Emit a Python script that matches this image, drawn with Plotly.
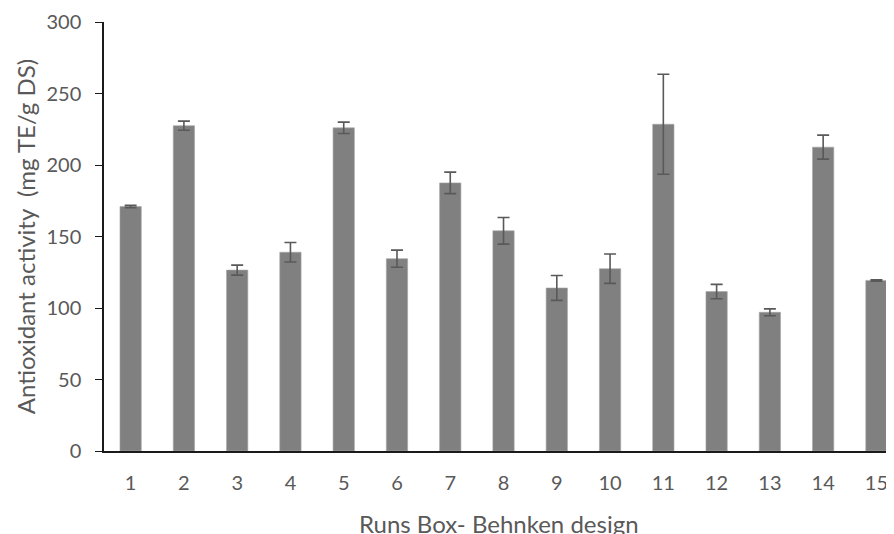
import plotly.graph_objects as go

runs = [str(i) for i in range(1, 16)]
activity = [171, 227.5, 126.5, 139, 226, 134.5, 187.5, 154, 114, 127.5, 228.5, 111.5, 97, 212.5, 119.3]
errors = [0.8, 3.2, 3.5, 6.8, 4, 6, 7.5, 9.3, 8.7, 10.3, 35, 5, 2.4, 8.4, 0.5]
y_ticks = [0, 50, 100, 150, 200, 250, 300]

FONT = "Lato"
GRAY = "#595959"

fig = go.Figure(go.Bar(
    x=list(range(1, 16)), y=activity,
    marker=dict(color="#808080", line=dict(color="#a6a6a6", width=0.6)),
    error_y=dict(type="data", array=errors, visible=True, color=GRAY, thickness=1.6, width=6),
    width=0.4,
))

fig.update_layout(
    width=886, height=526,
    margin=dict(l=96, r=0, t=14, b=83),
    plot_bgcolor="white", paper_bgcolor="white",
    showlegend=False,
    font=dict(family=FONT, color=GRAY, size=20),
    xaxis=dict(
        range=[0.5, 15.33], tickmode="array", tickvals=list(range(1, 16)), ticktext=runs,
        showline=True, linecolor="#1a1a1a", linewidth=1.5, ticks="", showgrid=False,
        zeroline=False, tickfont=dict(size=20, color=GRAY, family=FONT),
        ticklabelstandoff=13,
    ),
    yaxis=dict(
        range=[0, 300], tickvals=y_ticks, showline=True, linecolor="#1a1a1a", linewidth=1.5,
        ticks="outside", ticklen=7, tickcolor="#1a1a1a", tickwidth=1, showgrid=False,
        zeroline=False, tickfont=dict(size=20, color=GRAY, family=FONT),
        ticklabelstandoff=10,
    ),
    annotations=[
        dict(text="Runs Box- Behnken design", xref="paper", yref="paper", x=0.5, y=-0.168,
             xanchor="center", yanchor="middle", showarrow=False,
             font=dict(size=24, color=GRAY, family=FONT)),
        dict(text="Antioxidant activity  (mg TE/g DS)", xref="paper", yref="paper", x=-0.099, y=0.5,
             xanchor="center", yanchor="middle", textangle=-90, showarrow=False,
             font=dict(size=24, color=GRAY, family=FONT)),
    ],
)

fig.write_html("out.html")
